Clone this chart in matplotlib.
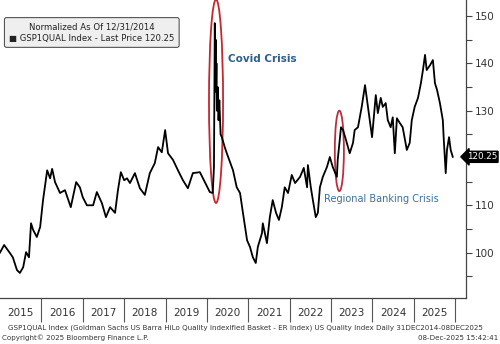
import matplotlib.pyplot as plt
from matplotlib.patches import Ellipse
import matplotlib.transforms as mtransforms

# GSP1QUAL, normalized to 100 on 12/31/2014
dates = [2015.00, 2015.10, 2015.24, 2015.31, 2015.41, 2015.48, 2015.56, 2015.63, 2015.70, 2015.75,
         2015.80, 2015.89, 2015.97, 2016.04, 2016.14, 2016.21, 2016.26, 2016.33, 2016.45, 2016.57,
         2016.71, 2016.84, 2016.93, 2017.00, 2017.10, 2017.25, 2017.34, 2017.46, 2017.56, 2017.66,
         2017.78, 2017.85, 2017.92, 2018.00, 2018.07, 2018.14, 2018.26, 2018.38, 2018.50, 2018.62,
         2018.74, 2018.82, 2018.91, 2018.99, 2019.06, 2019.18, 2019.30, 2019.42, 2019.54, 2019.66,
         2019.83, 2019.95, 2020.07, 2020.14, 2020.17, 2020.19, 2020.20, 2020.21, 2020.22, 2020.23,
         2020.24, 2020.26, 2020.28, 2020.30, 2020.33, 2020.36, 2020.43, 2020.48, 2020.63, 2020.72,
         2020.80, 2020.85, 2020.97, 2021.04, 2021.11, 2021.18, 2021.23, 2021.33, 2021.35, 2021.45,
         2021.52, 2021.59, 2021.67, 2021.74, 2021.81, 2021.88, 2021.96, 2022.05, 2022.13, 2022.25,
         2022.34, 2022.42, 2022.44, 2022.51, 2022.56, 2022.63, 2022.68, 2022.73, 2022.80, 2022.90,
         2022.97, 2023.04, 2023.14, 2023.16, 2023.24, 2023.29, 2023.38, 2023.45, 2023.53, 2023.57,
         2023.65, 2023.74, 2023.82, 2023.89, 2023.99, 2024.08, 2024.13, 2024.20, 2024.25, 2024.32,
         2024.37, 2024.44, 2024.49, 2024.54, 2024.59, 2024.66, 2024.73, 2024.83, 2024.90, 2024.95,
         2025.02, 2025.10, 2025.17, 2025.22, 2025.27, 2025.31, 2025.39, 2025.46, 2025.51, 2025.56,
         2025.63, 2025.70, 2025.72, 2025.77, 2025.80, 2025.85, 2025.89, 2025.94]
values = [100.0, 101.6, 99.9, 99.0, 96.3, 95.7, 96.9, 100.1, 99.0, 106.2,
          104.8, 103.3, 105.4, 111.1, 117.4, 115.7, 117.7, 114.9, 112.6, 113.2,
          109.6, 114.9, 113.8, 111.7, 110.0, 110.0, 112.8, 110.5, 107.5, 109.6,
          108.4, 113.2, 117.0, 115.3, 115.7, 114.7, 116.8, 113.6, 112.2, 116.8,
          118.9, 122.3, 121.2, 125.9, 121.0, 119.6, 117.4, 115.3, 113.6, 116.8,
          117.0, 114.9, 112.8, 112.6, 118.1, 148.5, 138.0, 145.0, 134.0, 140.0,
          130.0, 135.0, 128.0, 132.2, 125.0, 124.4, 122.3, 121.0, 117.4, 113.8,
          112.6, 109.6, 102.6, 101.2, 99.0, 97.8, 101.2, 104.1, 106.2, 102.0,
          107.5, 111.1, 108.4, 106.9, 109.6, 113.8, 112.6, 116.4, 114.7, 116.0,
          117.9, 113.8, 118.5, 113.8, 111.1, 107.5, 108.4, 113.8, 116.0, 118.1,
          120.2, 118.1, 116.0, 119.6, 126.5, 125.9, 123.2, 121.0, 123.2, 125.9,
          126.5, 130.8, 135.4, 130.8, 124.4, 133.3, 129.5, 132.7, 130.8, 131.6,
          128.0, 126.5, 128.6, 121.0, 128.4, 127.4, 126.5, 121.7, 123.2, 128.0,
          130.8, 132.7, 135.8, 138.6, 141.8, 138.6, 139.6, 140.7, 135.8, 134.4,
          131.6, 128.0, 124.4, 116.8, 121.7, 124.4, 121.7, 120.25]

years = [2015, 2016, 2017, 2018, 2019, 2020, 2021, 2022, 2023, 2024, 2025]
last_price = 120.25

fig = plt.figure(figsize=(5.0, 3.44), dpi=100)
ax = fig.add_axes([0.0, 1 - 298 / 344, 0.932, 298 / 344])

ax.plot(dates, values, color='black', linewidth=1.3)

ax.set_xlim(2015.0, 2026.26)
ax.set_ylim(90.4, 153.4)

# right-hand price axis
ax.yaxis.tick_right()
ax.set_yticks([100, 110, 130, 140, 150])
ax.set_yticks([95, 105, 115, 125, 135, 145], minor=True)
ax.tick_params(axis='y', which='both', direction='out', length=4, width=0.8,
               colors='#444444', labelsize=7.5, labelcolor='#333333', pad=2)

# years: separators as minor ticks, labels in the middle
ax.set_xticks([y + 1 for y in years], minor=True)
ax.set_xticks([y + 0.5 for y in years])
ax.set_xticklabels([str(y) for y in years])
ax.tick_params(axis='x', which='minor', length=17, width=0.8, color='#555555')
ax.tick_params(axis='x', which='major', length=0, labelsize=7.5, labelcolor='#333333', pad=7)

for s in ['top', 'left']:
    ax.spines[s].set_visible(False)
for s in ['right', 'bottom']:
    ax.spines[s].set_color('#444444')
    ax.spines[s].set_linewidth(0.9)

# crisis circles and labels
ax.add_patch(Ellipse((2020.22, 132.0), 0.34, 43.0, fill=False, edgecolor='#c8262d', linewidth=1.3))
ax.add_patch(Ellipse((2023.20, 121.5), 0.22, 17.0, fill=False, edgecolor='#b83040', linewidth=1.3))
ax.text(2020.51, 141.0, 'Covid Crisis', color='#2b5f8c', fontsize=7.5, fontweight='bold',
        ha='left', va='center')
ax.text(2022.83, 111.3, 'Regional Banking Crisis', color='#3f6f98', fontsize=7,
        ha='left', va='center')

# legend box
ax.text(0.197, 0.891, 'Normalized As Of 12/31/2014\n\u25A0 GSP1QUAL Index - Last Price 120.25',
        transform=ax.transAxes, ha='center', va='center', fontsize=6.1, color='#222222',
        linespacing=1.35,
        bbox=dict(boxstyle='round,pad=0.55,rounding_size=0.25', facecolor='#efefef',
                  edgecolor='#555555', linewidth=0.8))

# last price marker
trans = mtransforms.blended_transform_factory(fig.transFigure, ax.transData)
ax.text(0.994, last_price, '%.2f' % last_price, transform=trans, color='white', fontsize=6.3,
        ha='right', va='center',
        bbox=dict(boxstyle='larrow,pad=0.12', facecolor='black', edgecolor='black'))

# footer
fig.text(0.016, 0.047, 'GSP1QUAL Index (Goldman Sachs US Barra HiLo Quality Indexified Basket - ER Index) '
         'US Quality Index Daily 31DEC2014-08DEC2025', fontsize=5.1, color='#333333',
         ha='left', va='center')
fig.text(0.004, 0.017, 'Copyright\u00a9 2025 Bloomberg Finance L.P.', fontsize=5.1,
         color='#333333', ha='left', va='center')
fig.text(0.996, 0.017, '08-Dec-2025 15:42:41', fontsize=5.1, color='#333333',
         ha='right', va='center')

fig.savefig('out.png', dpi=100)
